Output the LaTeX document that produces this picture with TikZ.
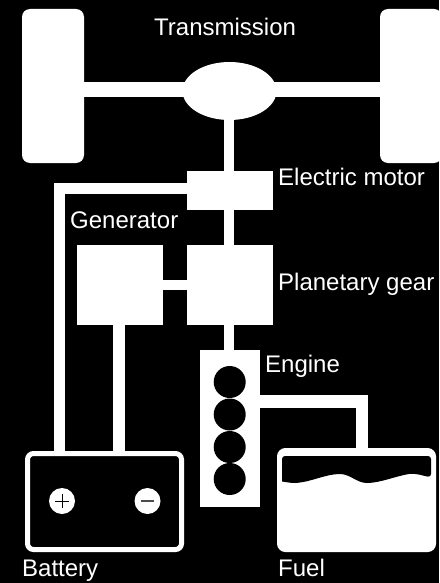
\documentclass[tikz,border=0pt]{standalone}
\usepackage{fontspec}
\setmainfont{Liberation Sans}
\usetikzlibrary{shapes.geometric}
\tikzset{
  part/.style={fill=white,draw=none,inner sep=0pt,outer sep=0pt},
  boxpart/.style={part,rectangle,minimum width=#1},
  wheel/.style={part,rectangle,rounded corners=8pt,minimum width=62pt,minimum height=154pt},
  hole/.style={circle,fill=black,draw=none,inner sep=0pt,outer sep=0pt,minimum size=32pt},
  terminal/.style={circle,fill=white,draw=none,inner sep=0pt,minimum size=26pt},
  wire/.style={draw=white,line width=#1,line cap=butt},
  lbl/.style={text=white,anchor=base west,inner sep=0pt,font=\fontsize{24}{28}\selectfont}
}
\begin{document}
\begin{tikzpicture}[x=1pt,y=-1pt]
\useasboundingbox[fill=black] (0,0) rectangle (439,583);
\clip (0,0) rectangle (439,583);
% parts
\node[wheel] (wl) at (53,86) {};
\node[wheel] (wr) at (411,86) {};
\node[part,ellipse,minimum width=94pt,minimum height=58pt] (trans) at (229.5,91) {};
\node[boxpart=86pt,minimum height=39pt] (motor) at (230,190.5) {};
\node[boxpart=86pt,minimum height=80pt] (planet) at (230,285) {};
\node[boxpart=86pt,minimum height=80pt] (gen) at (120,285) {};
\node[boxpart=60pt,minimum height=157pt] (engine) at (230,428.5) {};
\node[rectangle,draw=white,line width=5pt,fill=black,rounded corners=6pt,inner sep=0pt,minimum width=154pt,minimum height=96pt] (batt) at (104.5,501.5) {};
\node[rectangle,draw=white,line width=5pt,fill=white,rounded corners=6pt,inner sep=0pt,minimum width=154pt,minimum height=99pt] (tank) at (356.5,500) {};
% connectors
\draw[wire=15pt] (wl.east |- trans.center) ++(0,-1.5) coordinate (al) -- (al -| trans.center);
\draw[wire=15pt] (wr.west |- trans.center) ++(0,-1.5) coordinate (ar) -- (ar -| trans.center);
\draw[wire=10pt] (229.3,120) coordinate (s0) -- (s0 |- motor.north);
\draw[wire=10pt] (s0 |- motor.south) -- (s0 |- planet.north);
\draw[wire=10pt] (s0 |- planet.south) -- (s0 |- engine.north);
\draw[wire=10pt] (gen.east) -- (planet.west);
\draw[wire=12pt] (gen.south -| 119,0) -- (batt.north -| 119,0);
\draw[wire=11pt,line join=miter] ([yshift=2pt]motor.west) -| (batt.north -| 59,0);
\draw[wire=12.5pt,line join=miter] (engine.east |- 0,401.5) -| (tank.north -| 362,0);
% engine cylinders
\node[hole] (c1) at (229.7,382) {};
\node[hole] (c2) at (229.7,414.5) {};
\node[hole] (c3) at (229.7,447) {};
\node[hole] (c4) at (229.7,479) {};
% fuel tank empty space
\fill[black,rounded corners=3pt] (282,481.5) -- (282,456) -- (431,456) -- (431,477) [sharp corners]
  .. controls (423,476) and (417,473) .. (409,474)
  .. controls (396,476) and (380,483) .. (367,483)
  .. controls (357,483) and (350,474) .. (340,474)
  .. controls (325,474) and (312,482) .. (295,483)
  .. controls (290,483) and (286,482) .. (282,481.5) -- cycle;
% battery terminals
\node[terminal] (tp) at (62,501) {};
\node[terminal] (tm) at (147.5,501) {};
\draw[black,line width=1pt] (55,501) -- (69,501) (62,494) -- (62,508);
\draw[black!70,line width=1.2pt] (141,501) -- (154,501);
% labels
\node[lbl] (l1) at (154,36) {Transmission};
\node[lbl] (l2) at (278,185) {Electric motor};
\node[lbl] (l3) at (70,228.5) {Generator};
\node[lbl] (l4) at (278,290) {Planetary gear};
\node[lbl] (l5) at (265,372) {Engine};
\node[lbl] (l6) at (22,576) {Battery};
\node[lbl] (l7) at (278,576) {Fuel};
\end{tikzpicture}
\end{document}
